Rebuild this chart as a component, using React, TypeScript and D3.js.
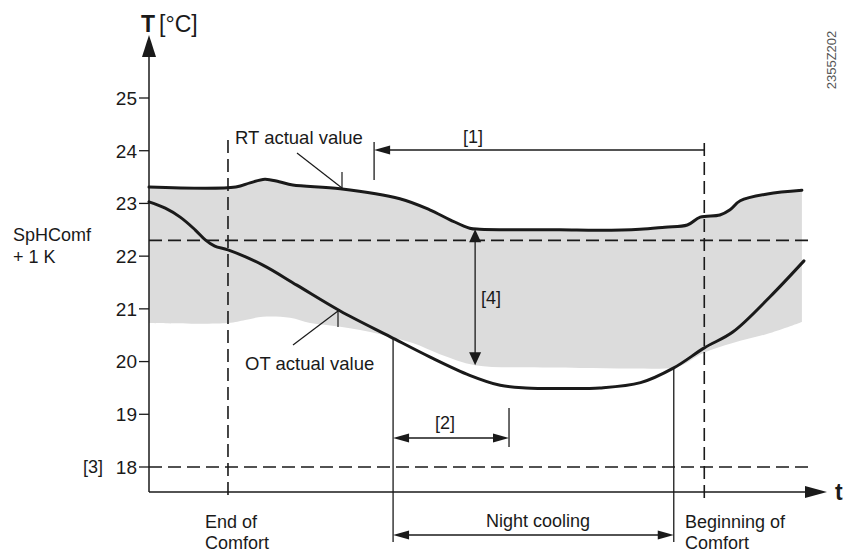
import React from 'react';
import * as d3 from 'd3';

// ---- data (time in arbitrary units 0..100, temperature in °C) ----
const rtTime = [0, 12.8, 14.9, 17.1, 19.2, 21.2, 28.2, 37.0, 41.4, 44.4, 47.3, 48.8, 60.6, 66.5, 72.4, 76.1, 79.4, 81.3, 84.2, 85.7, 87.2, 91.2, 96.3];
const rtTemp = [23.31, 23.31, 23.39, 23.46, 23.41, 23.35, 23.28, 23.09, 22.88, 22.69, 22.53, 22.51, 22.5, 22.49, 22.51, 22.55, 22.59, 22.74, 22.78, 22.88, 23.05, 23.18, 23.25];

const otTime = [0, 2.4, 4.6, 6.8, 8.3, 9.7, 11.65, 16.8, 21.8, 28.2, 35.6, 41.4, 47.3, 51.8, 55.6, 60.6, 66.5, 72.5, 77.4, 81.9, 86.1, 91.6, 96.6];
const otTemp = [23.03, 22.91, 22.74, 22.5, 22.31, 22.19, 22.12, 21.83, 21.45, 20.96, 20.47, 20.09, 19.74, 19.55, 19.5, 19.49, 19.5, 19.6, 19.88, 20.26, 20.56, 21.23, 21.91];

const bandLowTime = [0, 11.65, 14.2, 16.8, 20.8, 23.75, 28.2, 34.1, 38.9, 42.9, 48.1, 54.7, 63.6, 72.4, 77.9, 81.7, 86.1, 91.6, 96.3];
const bandLowTemp = [20.73, 20.73, 20.79, 20.85, 20.83, 20.73, 20.66, 20.52, 20.35, 20.14, 19.93, 19.89, 19.88, 19.87, 19.9, 20.16, 20.35, 20.54, 20.75];

const yTicks = [18, 19, 20, 21, 22, 23, 24, 25];
const setpointComfort = 22.3; // SpHComf + 1 K
const limitTemp = 18; // [3]
const endComfort = 11.65;
const beginComfort = 81.9;
const nightStart = 36.0;
const nightEnd = 77.4;
const nightStartOT = 20.43;
const nightEndOT = 19.88;
const span1Start = 33.2; // [1]
const span2End = 53.1; // [2]
const span4Time = 48.1; // [4]
const span4Top = 22.51;
const span4Bottom = 19.93;

const W = 843;
const H = 553;
const FONT = "'Liberation Sans', Arial, Helvetica, sans-serif";
const INK = '#1a1a1a';

function tri(tipX: number, tipY: number, dir: 'l' | 'r' | 'u' | 'd', len: number, half: number) {
  switch (dir) {
    case 'l':
      return `M${tipX},${tipY}L${tipX + len},${tipY - half}L${tipX + len},${tipY + half}Z`;
    case 'r':
      return `M${tipX},${tipY}L${tipX - len},${tipY - half}L${tipX - len},${tipY + half}Z`;
    case 'u':
      return `M${tipX},${tipY}L${tipX - half},${tipY + len}L${tipX + half},${tipY + len}Z`;
    default:
      return `M${tipX},${tipY}L${tipX - half},${tipY - len}L${tipX + half},${tipY - len}Z`;
  }
}

export default function App() {
  const x = d3.scaleLinear().domain([0, 100]).range([149, 827]);
  const y = d3.scaleLinear().domain([18, 25]).range([467, 98]);

  const axisX0 = x(0);
  const axisY0 = 492;
  const axisTop = 35;
  const axisRight = x(100);

  const line = d3
    .line<[number, number]>()
    .x((d) => x(d[0]))
    .y((d) => y(d[1]))
    .curve(d3.curveCatmullRom.alpha(0.5));

  const rtPts: [number, number][] = rtTime.map((t, i) => [t, rtTemp[i]]);
  const otPts: [number, number][] = otTime.map((t, i) => [t, otTemp[i]]);
  const lowPts: [number, number][] = bandLowTime.map((t, i) => [t, bandLowTemp[i]]);

  const topD = line(rtPts) || '';
  const lowRev = [...lowPts].reverse();
  const botD = (line(lowRev) || '').replace(/^M/, 'L');
  const bandD = `${topD}${botD}Z`;

  const dash = '13 6';
  const lineBottom = 542;
  const nightY = 535;
  const span2Y = 438;
  const span1Y = 150;

  const tickLabelSize = 19;

  return (
    <svg
      width={W}
      height={H}
      style={{ position: 'absolute', left: 0, top: 0, display: 'block', background: '#fff' }}
      fontFamily={FONT}
    >
      {/* shaded band */}
      <path d={bandD} fill="#dcdcdc" stroke="none" />

      {/* horizontal dashed reference lines */}
      <line x1={axisX0} x2={812} y1={y(setpointComfort)} y2={y(setpointComfort)} stroke={INK} strokeWidth={1.6} strokeDasharray={dash} />
      <line x1={axisX0} x2={813} y1={y(limitTemp)} y2={y(limitTemp)} stroke={INK} strokeWidth={1.6} strokeDasharray={dash} />

      {/* vertical dashed comfort lines */}
      <line x1={x(endComfort)} x2={x(endComfort)} y1={140} y2={500} stroke={INK} strokeWidth={1.6} strokeDasharray={dash} />
      <line x1={x(beginComfort)} x2={x(beginComfort)} y1={143} y2={500} stroke={INK} strokeWidth={1.6} strokeDasharray={dash} />

      {/* night cooling verticals */}
      <line x1={x(nightStart)} x2={x(nightStart)} y1={y(nightStartOT)} y2={lineBottom} stroke={INK} strokeWidth={1.3} />
      <line x1={x(nightEnd)} x2={x(nightEnd)} y1={y(nightEndOT)} y2={lineBottom} stroke={INK} strokeWidth={1.3} />

      {/* curves */}
      <path d={topD} fill="none" stroke={INK} strokeWidth={3} strokeLinejoin="round" strokeLinecap="round" />
      <path d={line(otPts) || ''} fill="none" stroke={INK} strokeWidth={3} strokeLinejoin="round" strokeLinecap="round" />

      {/* axes */}
      <line x1={axisX0} x2={axisX0} y1={axisTop + 18} y2={axisY0} stroke={INK} strokeWidth={1.5} />
      <path d={tri(axisX0, axisTop, 'u', 22, 7)} fill={INK} />
      <line x1={axisX0} x2={axisRight - 18} y1={axisY0} y2={axisY0} stroke={INK} strokeWidth={1.5} />
      <path d={tri(axisRight, axisY0, 'r', 22, 6)} fill={INK} />

      {yTicks.map((v) => (
        <g key={v}>
          <line x1={axisX0 - 10} x2={axisX0} y1={y(v)} y2={y(v)} stroke={INK} strokeWidth={1.3} />
          <text x={axisX0 - 12} y={y(v)} dy="0.36em" textAnchor="end" fontSize={tickLabelSize} fill={INK}>
            {v}
          </text>
        </g>
      ))}

      {/* axis titles */}
      <text x={141} y={32} fontSize={23} fill={INK}>
        <tspan fontWeight="bold">T</tspan>
        <tspan dx={4}>[°C]</tspan>
      </text>
      <text x={835} y={axisY0} dy="0.36em" fontSize={23} fontWeight="bold" fill={INK}>t</text>

      {/* figure code */}
      <text
        transform={`translate(836,60) rotate(-90)`}
        textAnchor="middle"
        fontSize={13}
        fill="#555"
      >
        2355Z202
      </text>

      {/* left labels */}
      <text x={13} y={235} dy="0.36em" fontSize={18} fill={INK}>SpHComf</text>
      <text x={13} y={257} dy="0.36em" fontSize={18} fill={INK}>+ 1 K</text>
      <text x={103} y={y(limitTemp)} dy="0.36em" textAnchor="end" fontSize={18} fill={INK}>[3]</text>

      {/* RT label & pointer */}
      <text x={235} y={137} dy="0.36em" fontSize={18.5} fill={INK}>RT actual value</text>
      <line x1={297} y1={153} x2={342} y2={188} stroke={INK} strokeWidth={1.2} />
      <line x1={342} y1={172} x2={342} y2={190} stroke={INK} strokeWidth={1.2} />

      {/* OT label & pointer */}
      <text x={245} y={363} dy="0.36em" fontSize={18.5} fill={INK}>OT actual value</text>
      <line x1={293} y1={345} x2={338} y2={311} stroke={INK} strokeWidth={1.2} />
      <line x1={338} y1={310} x2={338} y2={327} stroke={INK} strokeWidth={1.2} />

      {/* [1] */}
      <line x1={x(span1Start)} x2={x(span1Start)} y1={142} y2={180} stroke={INK} strokeWidth={1.3} />
      <line x1={x(span1Start) + 12} x2={x(beginComfort)} y1={span1Y} y2={span1Y} stroke={INK} strokeWidth={1.3} />
      <path d={tri(x(span1Start), span1Y, 'l', 16, 4.5)} fill={INK} />
      <text x={473} y={137} dy="0.36em" textAnchor="middle" fontSize={18} fill={INK}>[1]</text>

      {/* [2] */}
      <line x1={x(span2End)} x2={x(span2End)} y1={408} y2={447} stroke={INK} strokeWidth={1.3} />
      <line x1={x(nightStart) + 12} x2={x(span2End) - 12} y1={span2Y} y2={span2Y} stroke={INK} strokeWidth={1.3} />
      <path d={tri(x(nightStart), span2Y, 'l', 16, 4.5)} fill={INK} />
      <path d={tri(x(span2End), span2Y, 'r', 16, 4.5)} fill={INK} />
      <text x={445} y={423} dy="0.36em" textAnchor="middle" fontSize={18} fill={INK}>[2]</text>

      {/* [4] */}
      <line x1={x(span4Time)} x2={x(span4Time)} y1={y(span4Top) + 10} y2={y(span4Bottom) - 10} stroke={INK} strokeWidth={1.3} />
      <path d={tri(x(span4Time), y(span4Top), 'u', 13, 6)} fill={INK} />
      <path d={tri(x(span4Time), y(span4Bottom), 'd', 13, 6)} fill={INK} />
      <text x={481} y={298} dy="0.36em" fontSize={18} fill={INK}>[4]</text>

      {/* Night cooling */}
      <line x1={x(nightStart) + 12} x2={x(nightEnd) - 12} y1={nightY} y2={nightY} stroke={INK} strokeWidth={1.3} />
      <path d={tri(x(nightStart), nightY, 'l', 16, 4.5)} fill={INK} />
      <path d={tri(x(nightEnd), nightY, 'r', 16, 4.5)} fill={INK} />
      <text x={538} y={521} dy="0.36em" textAnchor="middle" fontSize={18} fill={INK}>Night cooling</text>

      {/* bottom labels */}
      <text x={205} y={522} dy="0.36em" fontSize={18} fill={INK}>End of</text>
      <text x={205} y={543} dy="0.36em" fontSize={18} fill={INK}>Comfort</text>
      <text x={685} y={522} dy="0.36em" fontSize={18} fill={INK}>Beginning of</text>
      <text x={685} y={543} dy="0.36em" fontSize={18} fill={INK}>Comfort</text>
    </svg>
  );
}
